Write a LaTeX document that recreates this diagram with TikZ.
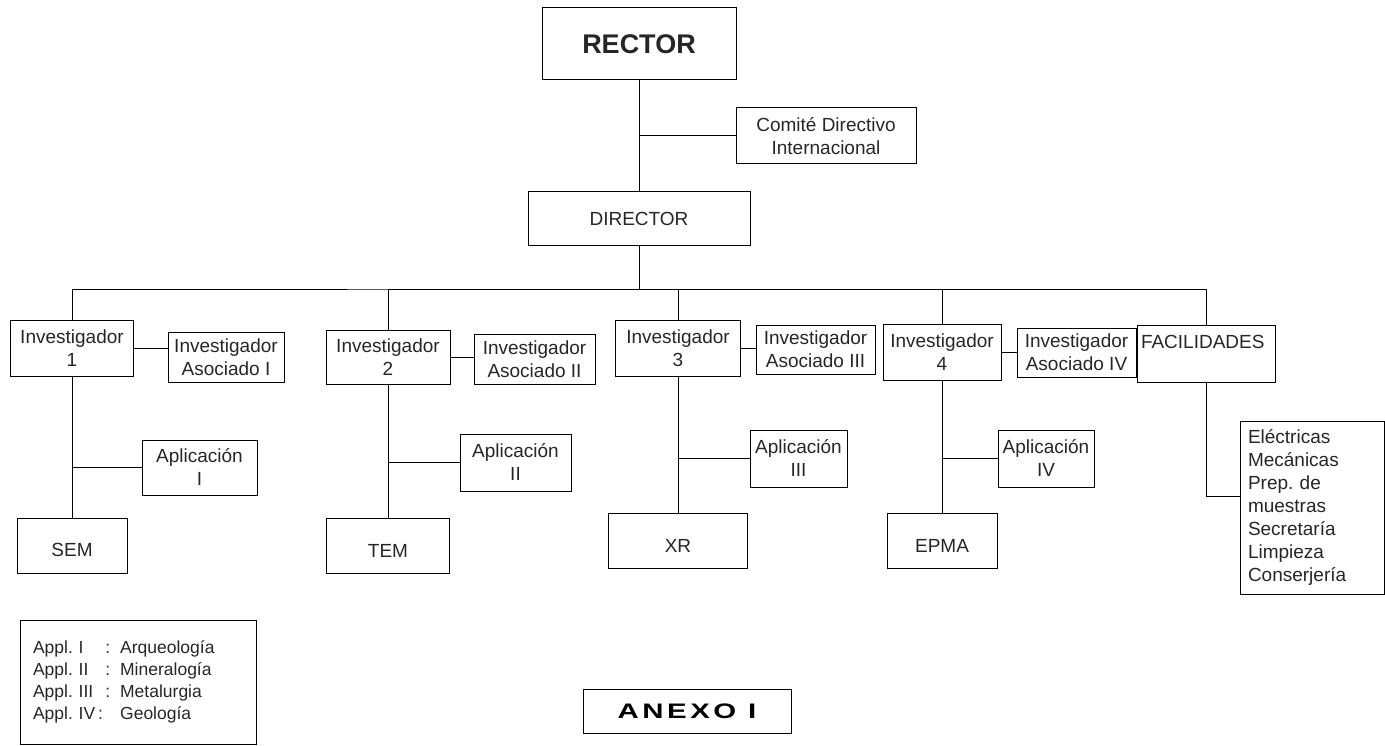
\documentclass[tikz,border=0pt]{standalone}
\usepackage{graphicx}
\usepackage{fontspec}
\setmainfont{Liberation Sans}
\begin{document}
\begin{tikzpicture}[x=1pt, y=-1pt,
    box/.style={draw, line width=1pt, inner sep=2pt, align=center,
        text=black!85, font=\fontsize{19}{23}\selectfont},
    link/.style={line width=1pt}]

    \useasboundingbox (0,0) rectangle (1385,746);

    % Top of the chart
    \node[box,
        minimum width=194,
        minimum height=72,
        font=\fontsize{27}{30}\selectfont\bfseries] (rector) at (639,44) {RECTOR};

    \node[box,
        minimum width=180,
        minimum height=56] (comite) at (826,136) {Comité Directivo\\Internacional};

    \node[box,
        minimum width=222,
        minimum height=54] (director) at (639,219) {DIRECTOR};

    % Column 1
    \node[box, minimum width=123, minimum height=56] (inv1) at (72,348) {Investigador\\1};
    \node[box, minimum width=116, minimum height=50] (asoc1) at (226,357) {Investigador\\Asociado I};
    \node[box, minimum width=115, minimum height=55] (apl1) at (199.5,467.5) {Aplicación\\I};
    \node[box, minimum width=110, minimum height=55] (sem) at (72,545.5) {~\\SEM};

    % Column 2
    \node[box, minimum width=124, minimum height=54] (inv2) at (388,357) {Investigador\\2};
    \node[box, minimum width=121, minimum height=50] (asoc2) at (534.5,359) {Investigador\\Asociado II};
    \node[box, minimum width=111, minimum height=57] (apl2) at (515.5,462.5) {Aplicación\\II};
    \node[box, minimum width=123, minimum height=55] (tem) at (388,545.5) {~\\TEM};

    % Column 3
    \node[box, minimum width=125, minimum height=56] (inv3) at (678,348) {Investigador\\3};
    \node[box, minimum width=119, minimum height=49] (asoc3) at (815.5,349.5) {Investigador\\Asociado III};
    \node[box, minimum width=97, minimum height=57] (apl3) at (798.5,458.5) {Aplicación\\III};
    \node[box, minimum width=139, minimum height=55] (xr) at (678,540.5) {~\\XR};

    % Column 4
    \node[box, minimum width=118, minimum height=56] (inv4) at (942,352) {Investigador\\4};
    \node[box, minimum width=119, minimum height=49] (asoc4) at (1076.5,352.5) {Investigador\\Asociado IV};
    \node[box, minimum width=96, minimum height=57] (apl4) at (1046,458.5) {Aplicación\\IV};
    \node[box, minimum width=110, minimum height=55] (epma) at (942,540.5) {~\\EPMA};

    % Facilities
    \node[box,
        minimum width=138,
        minimum height=57,
        text width=130,
        align=left] (fac) at (1206,353.5) {FACILIDADES\\~};

    \node[box,
        minimum width=144,
        minimum height=173,
        inner xsep=8pt,
        text width=128,
        align=left] (facitems) at (1312,507.5) {Eléctricas\\Mecánicas\\Prep.\ de\\muestras\\Secretaría\\Limpieza\\Conserjería};

    % Legend
    \node[box,
        minimum width=236,
        minimum height=124,
        inner xsep=13pt,
        text width=210,
        align=left,
        font=\fontsize{17.5}{22}\selectfont] (legend) at (138,682) {%
        \begin{tabular}{@{}l@{\hspace{12pt}}l@{\hspace{10pt}}l@{}}
        Appl.\ I & : & Arqueología\\
        Appl.\ II & : & Mineralogía\\
        Appl.\ III & : & Metalurgia\\
        \multicolumn{2}{@{}l@{\hspace{10pt}}}{Appl.\ IV\,:} & Geología
        \end{tabular}};

    % Annex title
    \node[box,
        minimum width=208,
        minimum height=44,
        text=black,
        font=\fontsize{21}{24}\selectfont\bfseries] (anexo) at (687,711) {\scalebox{1.4}[1]{\addfontfeature{LetterSpace=12}ANEXO I}};

    % Connections
    \coordinate (bus) at (639,290);
    \draw[link] (rector) -- (director);
    \draw[link] (comite.west) -- (comite.west -| director.north);
    \draw[link] (director.south) -- (bus);
    \draw[link] (inv1.north) |- (bus) -| (fac.north);
    \draw[link] (bus) -| (inv2.north);
    \draw[link] (bus) -| (inv3.north);
    \draw[link] (bus) -| (inv4.north);

    \draw[link] (inv1) -- (sem);
    \draw[link] (inv1.east) -- (inv1.east -| asoc1.west);
    \draw[link] (apl1.west) -- (apl1.west -| sem.north);

    \draw[link] (inv2) -- (tem);
    \draw[link] (inv2.east) -- (inv2.east -| asoc2.west);
    \draw[link] (apl2.west) -- (apl2.west -| tem.north);

    \draw[link] (inv3) -- (xr);
    \draw[link] (inv3.east) -- (inv3.east -| asoc3.west);
    \draw[link] (apl3.west) -- (apl3.west -| xr.north);

    \draw[link] (inv4) -- (epma);
    \draw[link] (inv4.east) -- (inv4.east -| asoc4.west);
    \draw[link] (apl4.west) -- (apl4.west -| epma.north);

    \draw[link] (fac.south) |- ([yshift=11.5pt]facitems.west);

\end{tikzpicture}
\end{document}
